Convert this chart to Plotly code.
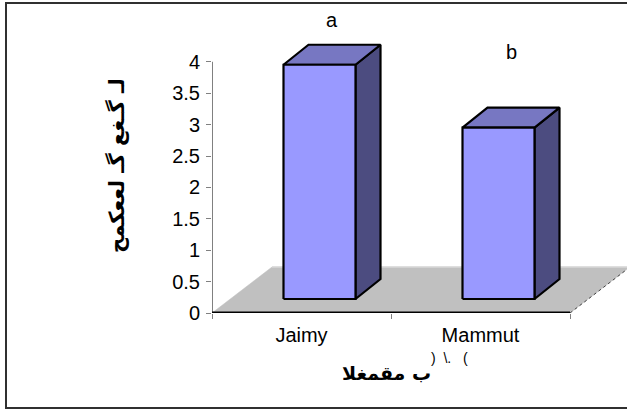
import plotly.graph_objects as go

# ---- data ----
categories = ["Jaimy", "Mammut"]
values = [3.73, 2.73]
letters = ["a", "b"]
letter_heights = [4.67, 4.16]
y_ticks = [0, 0.5, 1, 1.5, 2, 2.5, 3, 3.5, 4]
y_title = "لـ گـغع گـ لععکمح"
x_title = "ب مقمغلا"
x_title_suffix = ")  \\.   ("

# ---- geometry (px -> data scale) ----
W, H = 627, 410
L, R, T, B = 212, 0, 10, 97
px_per_x = 179.0
px_per_y = 62.8
plot_w = W - L - R
plot_h = H - T - B
x_range = [-0.5, -0.5 + plot_w / px_per_x]
y_range = [0, plot_h / px_per_y]

off = 18 / px_per_x
hw = 36 / px_per_x
yb = 14 / px_per_y
ddx = 25 / px_per_x
ddy = 20 / px_per_y
fdx = 60 / px_per_x
fdy = 46 / px_per_y

front_c = "#9999FF"
top_c = "#7777C2"
side_c = "#4C4C80"

fig = go.Figure()

# floor
n = len(categories)
fx = [-0.5, n - 0.5, n - 0.5 + fdx, -0.5 + fdx, -0.5]
fy = [0, 0, fdy, fdy, 0]
fig.add_trace(go.Scatter(x=fx, y=fy, fill="toself", fillcolor="#C0C0C0",
                         mode="lines", line=dict(color="#C0C0C0", width=0.5),
                         hoverinfo="skip", showlegend=False))
fig.add_trace(go.Scatter(x=[-0.5 + fdx, n - 0.5 + fdx], y=[fdy, fdy], mode="lines",
                         line=dict(color="#D8D8D8", width=1.5),
                         hoverinfo="skip", showlegend=False))
fig.add_trace(go.Scatter(x=[n - 0.5, n - 0.5 + fdx], y=[0, fdy], mode="lines",
                         line=dict(color="#404040", width=1, dash="dot"),
                         hoverinfo="skip", showlegend=False))

def poly(xs, ys, color):
    fig.add_trace(go.Scatter(x=xs + [xs[0]], y=ys + [ys[0]], fill="toself",
                             fillcolor=color, mode="lines",
                             line=dict(color="black", width=2.2),
                             hoverinfo="skip", showlegend=False))

for i, v in enumerate(values):
    x0 = i + off - hw
    x1 = i + off + hw
    yt = yb + v
    poly([x1, x1 + ddx, x1 + ddx, x1], [yb, yb + ddy, yt + ddy, yt], side_c)
    poly([x0, x1, x1 + ddx, x0 + ddx], [yt, yt, yt + ddy, yt + ddy], top_c)
    poly([x0, x1, x1, x0], [yb, yb, yt, yt], front_c)

# axis lines
fig.add_trace(go.Scatter(x=[-0.5, -0.5], y=[0, max(y_ticks)], mode="lines",
                         line=dict(color="#808080", width=2),
                         hoverinfo="skip", showlegend=False))
fig.add_trace(go.Scatter(x=[-0.5, n - 0.5], y=[0, 0], mode="lines",
                         line=dict(color="black", width=3),
                         hoverinfo="skip", showlegend=False))

font = "Liberation Sans, Arial, DejaVu Sans, sans-serif"
annotations = []
for i, (lt, hy) in enumerate(zip(letters, letter_heights)):
    annotations.append(dict(x=i + off + ddx / 2, y=hy, xref="x", yref="y", text=lt,
                            xanchor="center", yanchor="middle",
                            showarrow=False, font=dict(size=20, color="black", family=font)))

def px_x(px):
    return (px - L) / plot_w

def px_y(py):
    return (H - B - py) / plot_h

annotations.append(dict(x=px_x(116), y=px_y(166), xref="paper", yref="paper",
                        xanchor="center", yanchor="middle",
                        text="<b>" + y_title + "</b>", textangle=-90, showarrow=False,
                        font=dict(size=21, color="black", family="DejaVu Sans, sans-serif")))
annotations.append(dict(x=px_x(386), y=px_y(373), xref="paper", yref="paper",
                        xanchor="center", yanchor="middle",
                        text="<b>" + x_title + "</b>", showarrow=False,
                        font=dict(size=19, color="black", family="DejaVu Sans, sans-serif")))
annotations.append(dict(x=px_x(449), y=px_y(358), xref="paper", yref="paper",
                        xanchor="center", yanchor="middle",
                        text=x_title_suffix, showarrow=False,
                        font=dict(size=14, color="black", family=font)))

shapes = [dict(type="rect", xref="paper", yref="paper",
               x0=px_x(6), x1=px_x(635), y0=px_y(408), y1=px_y(3),
               line=dict(color="#303030", width=2), fillcolor="rgba(0,0,0,0)", layer="below")]

fig.update_layout(
    width=W, height=H,
    margin=dict(l=L, r=R, t=T, b=B),
    paper_bgcolor="white", plot_bgcolor="white",
    showlegend=False,
    annotations=annotations,
    shapes=shapes,
    xaxis=dict(range=x_range, showgrid=False, zeroline=False, showline=False,
               tickvals=list(range(n)), ticktext=categories, ticks="",
               ticklabelstandoff=8,
               tickfont=dict(size=20, color="black", family=font),
               minor=dict(tickvals=[-0.5 + k for k in range(n + 1)], ticks="outside",
                          ticklen=5, tickcolor="#808080", tickwidth=1),
               fixedrange=True),
    yaxis=dict(range=y_range, showgrid=False, zeroline=False, showline=False,
               tickvals=y_ticks, ticks="outside", ticklen=5, tickcolor="#808080",
               ticklabelstandoff=2,
               tickfont=dict(size=20, color="black", family=font),
               fixedrange=True),
)

fig.write_html("out.html", config={"displayModeBar": False},
               post_script="document.body.style.margin='0px';")
